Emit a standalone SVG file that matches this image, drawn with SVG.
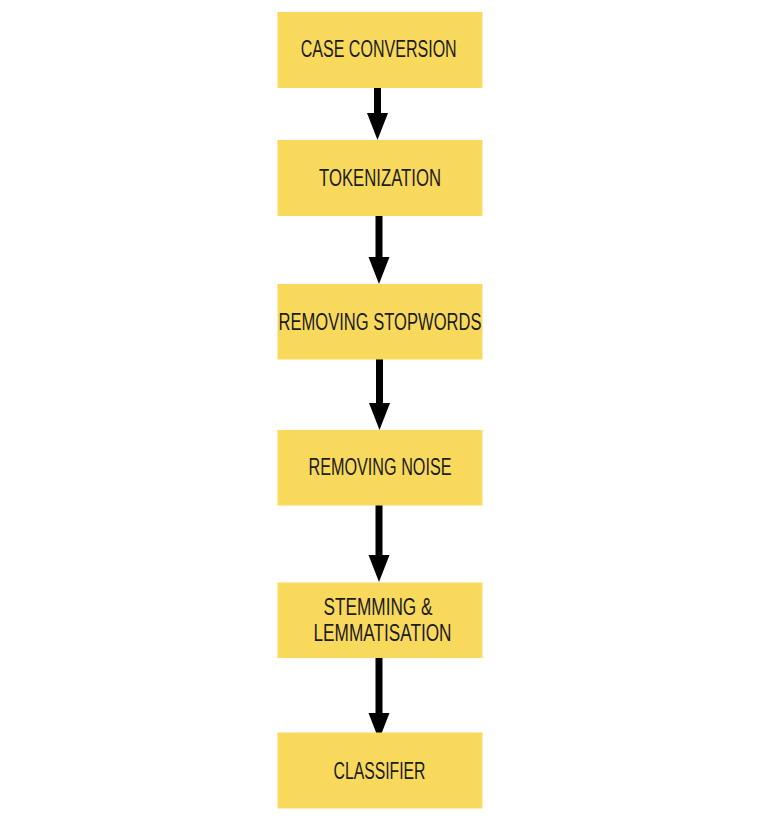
<svg xmlns="http://www.w3.org/2000/svg" width="767" height="827" viewBox="0 0 767 827">
<style>
.box{fill:#F9D95C}
.lbl{font-family:"Liberation Sans",Arial,sans-serif;font-size:23px;fill:#1c1c1c;text-anchor:middle}
.conn{stroke:#000;stroke-width:7;fill:none}
</style>
<defs>
<marker id="ah" markerUnits="userSpaceOnUse" viewBox="0 -11 27 22" markerWidth="27" markerHeight="22" refX="0" refY="0" orient="auto">
<path d="M0,-10.5 L27,0 L0,10.5 z" fill="#000"/>
</marker>
</defs>
<rect width="767" height="827" fill="#fff"/>
<g id="connectors">
<line class="conn" x1="377.5" y1="86" x2="377.5" y2="113" marker-end="url(#ah)"/>
<line class="conn" x1="379" y1="214" x2="379" y2="257" marker-end="url(#ah)"/>
<line class="conn" x1="379.5" y1="358" x2="379.5" y2="403" marker-end="url(#ah)"/>
<line class="conn" x1="379" y1="504" x2="379" y2="555" marker-end="url(#ah)"/>
<line class="conn" x1="379" y1="656" x2="379" y2="713" marker-end="url(#ah)"/>
</g>
<g id="n1"><rect class="box" x="277.5" y="12" width="205" height="76"/><text class="lbl" x="378.7" y="57" textLength="156" lengthAdjust="spacingAndGlyphs">CASE CONVERSION</text></g>
<g id="n2"><rect class="box" x="277.5" y="140" width="205" height="76"/><text class="lbl" x="380" y="186" textLength="122" lengthAdjust="spacingAndGlyphs">TOKENIZATION</text></g>
<g id="n3"><rect class="box" x="277.5" y="284" width="205" height="75.5"/><text class="lbl" x="380" y="330" textLength="203" lengthAdjust="spacingAndGlyphs">REMOVING STOPWORDS</text></g>
<g id="n4"><rect class="box" x="277.5" y="430" width="205" height="75.5"/><text class="lbl" x="380" y="475" textLength="143" lengthAdjust="spacingAndGlyphs">REMOVING NOISE</text></g>
<g id="n5"><rect class="box" x="277.5" y="582.5" width="205" height="75.5"/><text class="lbl" x="378" y="614.5" textLength="109" lengthAdjust="spacingAndGlyphs">STEMMING &amp;</text><text class="lbl" x="382.5" y="641" textLength="138" lengthAdjust="spacingAndGlyphs">LEMMATISATION</text></g>
<g id="n6"><rect class="box" x="277.5" y="732.5" width="205" height="76"/><text class="lbl" x="379.5" y="778.5" textLength="92" lengthAdjust="spacingAndGlyphs">CLASSIFIER</text></g>
</svg>
